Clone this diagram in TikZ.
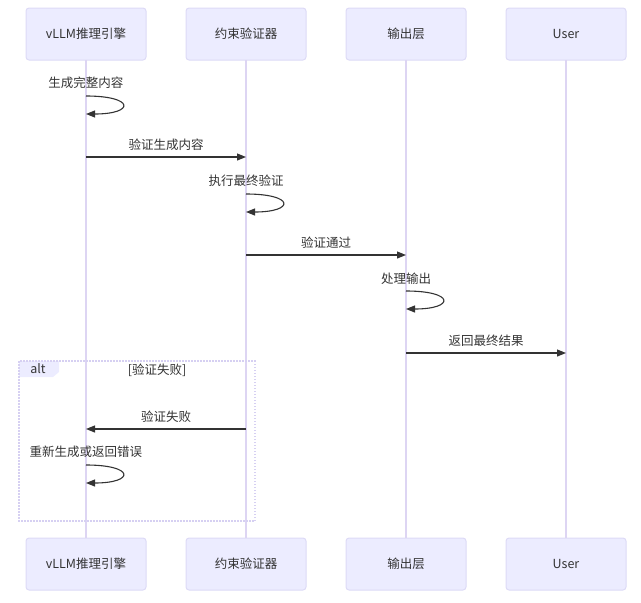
\documentclass[tikz,border=0pt]{standalone}
\usepackage{fontspec}
\setmainfont{Noto Sans CJK SC}
\usetikzlibrary{positioning,arrows.meta}
\definecolor{actorfill}{HTML}{ECECFF}
\definecolor{actorline}{HTML}{DDDAF6}
\definecolor{frameline}{HTML}{D6D0F2}
\definecolor{lifeline}{HTML}{DDD5F3}
\definecolor{msgline}{HTML}{333333}

\begin{document}
\begin{tikzpicture}[x=1pt, y=-1pt, node distance=40pt,
    every node/.style={font=\fontsize{12.5}{15}\selectfont, text=msgline},
    actor/.style={draw=actorline, fill=actorfill, rounded corners=3pt, line width=1pt,
      minimum width=120pt, minimum height=52pt, outer sep=0pt},
    life/.style={draw=lifeline, line width=1.6pt},
    msg/.style={draw=msgline, line width=1.1pt, -{Triangle[length=9pt,width=7pt]}},
    msglabel/.style={inner sep=0pt}]
        \useasboundingbox (0,0) rectangle (641,603);

        % Participants, top row
        \node[actor] (vllm) at (86,34) {vLLM推理引擎};
        \node[actor, right=of vllm] (check) {约束验证器};
        \node[actor, right=of check] (out) {输出层};
        \node[actor, right=of out] (user) {User};

        % Participants, bottom row
        \node[actor, below=478pt of vllm] (vllmB) {vLLM推理引擎};
        \node[actor, below=478pt of check] (checkB) {约束验证器};
        \node[actor, below=478pt of out] (outB) {输出层};
        \node[actor, below=478pt of user] (userB) {User};

        % Lifelines
        \draw[life] (vllm) -- (vllmB);
        \draw[life] (check) -- (checkB);
        \draw[life] (out) -- (outB);
        \draw[life] (user) -- (userB);

        % alt frame
        \fill[actorfill] (19,361) -- (59,361) -- (59,372) -- (53,377) -- (19,377) -- cycle;
        \draw[draw=frameline, line width=1.5pt, dash pattern=on 1.5pt off 1.5pt] (19,361) rectangle (255,521);
        \node[msglabel] (alt) at (38,369) {alt};
        \node[msglabel] (altcond) at (157,370) {[验证失败]};

        % Points on the lifelines
        \coordinate (g1s) at (vllm |- 0,96);
        \coordinate (g1e) at (vllm |- 0,114);
        \coordinate (g2a) at (vllm |- 0,157);
        \coordinate (g2b) at (check |- 0,157);
        \coordinate (g3s) at (check |- 0,194);
        \coordinate (g3e) at (check |- 0,212);
        \coordinate (g4a) at (check |- 0,255);
        \coordinate (g4b) at (out |- 0,255);
        \coordinate (g5s) at (out |- 0,291);
        \coordinate (g5e) at (out |- 0,309);
        \coordinate (g6a) at (out |- 0,353);
        \coordinate (g6b) at (user |- 0,353);
        \coordinate (g7a) at (check |- 0,429);
        \coordinate (g7b) at (vllm |- 0,429);
        \coordinate (g8s) at (vllm |- 0,465);
        \coordinate (g8e) at (vllm |- 0,483);

        % Messages
        \node[msglabel] (t1) at (vllm |- 0,83) {生成完整内容};
        \draw[msg] (g1s) .. controls ([xshift=49pt]g1s) and ([xshift=49pt]g1e) .. (g1e);

        \draw[msg] (g2a) -- node[msglabel, above=6pt] (t2) {验证生成内容} (g2b);

        \node[msglabel] (t3) at (check |- 0,181) {执行最终验证};
        \draw[msg] (g3s) .. controls ([xshift=49pt]g3s) and ([xshift=49pt]g3e) .. (g3e);

        \draw[msg] (g4a) -- node[msglabel, above=6pt] (t4) {验证通过} (g4b);

        \node[msglabel] (t5) at (out |- 0,279) {处理输出};
        \draw[msg] (g5s) .. controls ([xshift=49pt]g5s) and ([xshift=49pt]g5e) .. (g5e);

        \draw[msg] (g6a) -- node[msglabel, above=6pt] (t6) {返回最终结果} (g6b);

        \draw[msg] (g7a) -- node[msglabel, above=6pt] (t7) {验证失败} (g7b);

        \node[msglabel] (t8) at (vllm |- 0,452) {重新生成或返回错误};
        \draw[msg] (g8s) .. controls ([xshift=49pt]g8s) and ([xshift=49pt]g8e) .. (g8e);
\end{tikzpicture}
\end{document}
